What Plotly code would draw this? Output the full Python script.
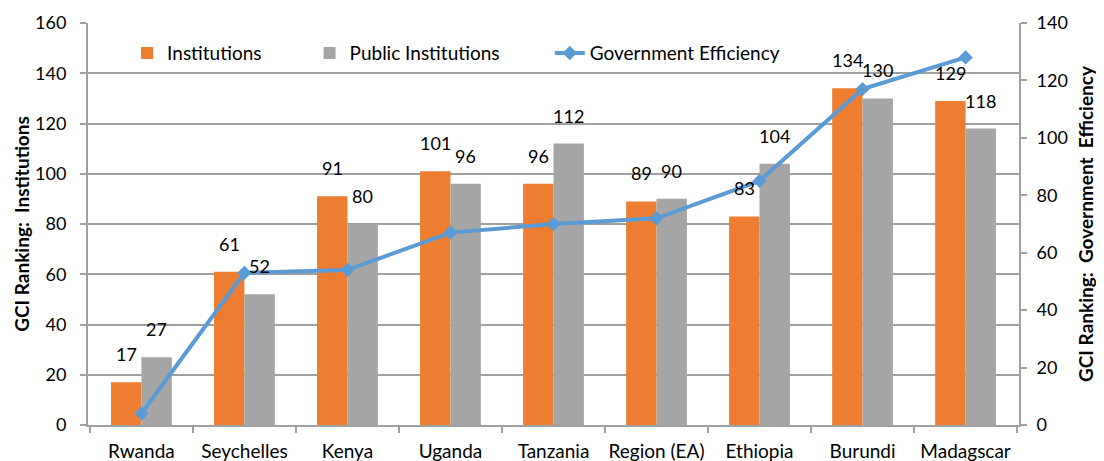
import plotly.graph_objects as go

categories = ["Rwanda", "Seychelles", "Kenya", "Uganda", "Tanzania", "Region (EA)", "Ethiopia", "Burundi", "Madagscar"]
institutions = [17, 61, 91, 101, 96, 89, 83, 134, 129]
public_institutions = [27, 52, 80, 96, 112, 90, 104, 130, 118]
gov_efficiency = [4, 53, 54, 67, 70, 72, 85, 117, 128]

ORANGE = "#ED7D31"
GRAY = "#A5A5A5"
BLUE = "#5B9BD5"
AXIS = "#A0A0A0"
FONT = "Lato"

fig = go.Figure()
fig.add_trace(go.Bar(x=categories, y=institutions, name="Institutions",
                     marker=dict(color=ORANGE, line=dict(width=0)), legend="legend"))
fig.add_trace(go.Bar(x=categories, y=public_institutions, name="Public Institutions",
                     marker=dict(color=GRAY, line=dict(width=0)), legend="legend2"))
fig.add_trace(go.Scatter(x=categories, y=gov_efficiency, name="Government Efficiency",
                         yaxis="y2", mode="lines+markers",
                         line=dict(color=BLUE, width=4),
                         marker=dict(symbol="diamond", size=11, color=BLUE),
                         legend="legend3"))

annotations = []
for c, v in zip(categories, institutions):
    annotations.append(dict(x=c, y=v, xref="x", yref="y", text=str(v), showarrow=False,
                            xshift=-15, yshift=28, yanchor="middle",
                            font=dict(family=FONT, size=18, color="#000")))
for c, v in zip(categories, public_institutions):
    annotations.append(dict(x=c, y=v, xref="x", yref="y", text=str(v), showarrow=False,
                            xshift=15, yshift=28, yanchor="middle",
                            font=dict(family=FONT, size=18, color="#000")))

leg_common = dict(orientation="h", yanchor="middle", y=0.925, xanchor="left",
                  bgcolor="rgba(0,0,0,0)", font=dict(family=FONT, size=19, color="#000"))

fig.update_layout(
    width=1096, height=453,
    margin=dict(l=80, r=85, t=15, b=36, autoexpand=False),
    paper_bgcolor="white", plot_bgcolor="white",
    font=dict(family=FONT, size=18, color="#000"),
    barmode="group", bargap=0.41, bargroupgap=0,
    showlegend=True,
    legend=dict(x=0.042, **leg_common),
    legend2=dict(x=0.238, **leg_common),
    legend3=dict(x=0.496, **leg_common),
    xaxis=dict(showline=True, linecolor=AXIS, linewidth=2,
               ticks="outside", tickson="boundaries", ticklen=6, tickcolor=AXIS,
               tickwidth=2, showgrid=False, tickfont=dict(size=19), tickangle=0,
               ticklabelstandoff=8, automargin=False),
    yaxis=dict(range=[0, 160], dtick=20, showline=True, linecolor=AXIS, linewidth=2,
               ticks="outside", ticklen=6, tickcolor=AXIS, tickwidth=2,
               showgrid=True, gridcolor=AXIS, gridwidth=2, zeroline=False, automargin=False,
               ticklabelstandoff=10,
               title=dict(text="<b>GCI Ranking:  Institutions</b>", font=dict(size=19), standoff=0),
               tickfont=dict(size=18)),
    yaxis2=dict(range=[0, 140], dtick=20, overlaying="y", side="right",
                showline=True, linecolor=AXIS, linewidth=2,
                ticks="outside", ticklen=6, tickcolor=AXIS, tickwidth=2,
                showgrid=False, zeroline=False, automargin=False,
                ticklabelstandoff=6,
                title=dict(text="<b>GCI Ranking:  Government  Efficiency</b>", font=dict(size=19), standoff=13),
                tickfont=dict(size=18)),
    annotations=annotations,
)

fig.write_html("out.html")
